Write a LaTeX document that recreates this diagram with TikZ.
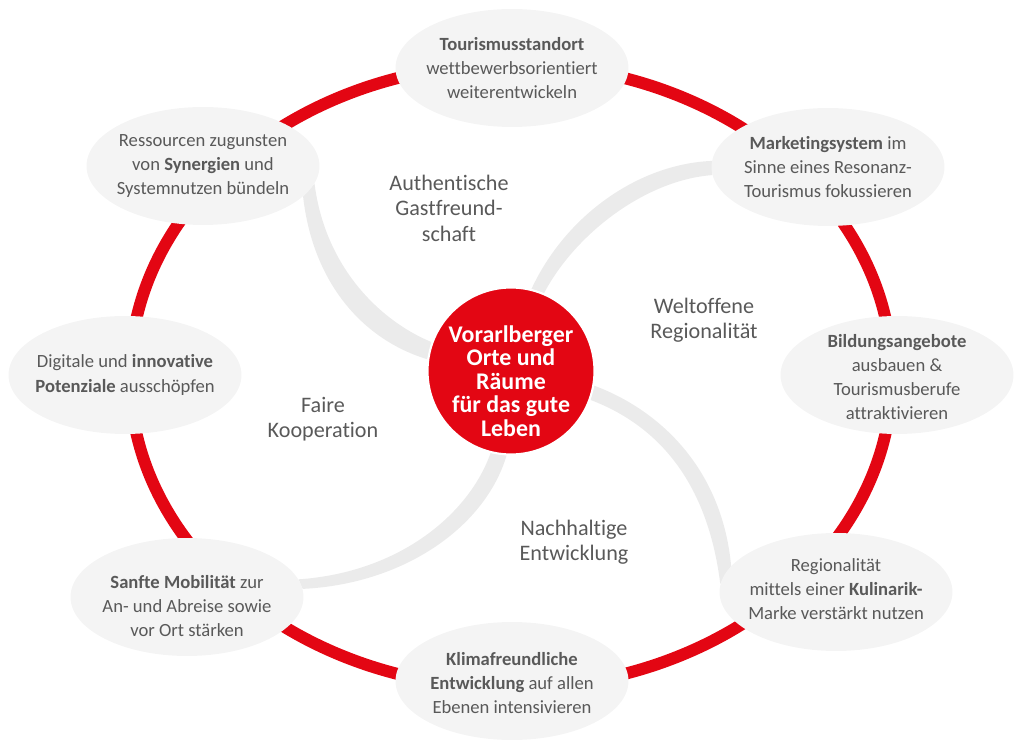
\documentclass[tikz,border=0pt]{standalone}
\usepackage{fontspec}
\setmainfont{Carlito}[Ligatures=CommonOff, Contextuals=AlternateOff]
\usetikzlibrary{shapes.geometric, backgrounds}
\definecolor{vred}{HTML}{E30613}
\definecolor{bubgray}{HTML}{F4F4F4}
\definecolor{swgray}{HTML}{EBEBEB}
\definecolor{txtgray}{HTML}{595959}

\newcommand{\satellite}[4]{%
  % bubble #1 at #2, its text at #3
  \node[bubble] (#1) at #2 {};
  \node[bubtext] (#1-t) at #3 {#4};
}

\begin{document}
\begin{tikzpicture}[
    x=0.02cm, y=-0.02cm,
    ring/.style={draw=vred, line width=0.24cm},
    swoosh/.style={fill=swgray, draw=none},
    bubble/.style={ellipse, fill=bubgray, minimum width=4.66cm, minimum height=2.36cm, inner sep=0pt},
    bubtext/.style={align=center, text=txtgray, inner sep=0pt, font=\fontsize{10.6}{13.7}\selectfont},
    theme/.style={align=center, text=txtgray, inner sep=0pt, font=\fontsize{12.6}{14.5}\selectfont},
    hubnode/.style={circle, fill=vred, draw=white, line width=1.2pt, minimum size=3.34cm, inner sep=0pt},
    hubtext/.style={align=center, text=white, inner sep=0pt, font=\bfseries\fontsize{13.6}{13.3}\selectfont}
  ]
  \useasboundingbox (0,0) rectangle (1024,749);

  \satellite{tour}{(512,68)}{(512,68)}{\textbf{Tourismusstandort}\\wettbewerbsorientiert\\weiterentwickeln}
  \satellite{res}{(203,166)}{(203,166)}{Ressourcen zugunsten\\von \textbf{Synergien} und\\Systemnutzen bündeln}
  \satellite{mkt}{(828,167)}{(828,167)}{\textbf{Marketingsystem} im\\Sinne eines Resonanz-\\Tourismus fokussieren}
  \satellite{dig}{(125,375)}{(125,375)}{Digitale und \textbf{innovative}\\\textbf{Potenziale} ausschöpfen}
  \satellite{bild}{(897,375)}{(897,377)}{\textbf{Bildungsangebote}\\ausbauen \&\\Tourismusberufe\\attraktivieren}
  \satellite{sanf}{(187,597)}{(187,606)}{\textbf{Sanfte Mobilität} zur\\An- und Abreise sowie\\vor Ort stärken}
  \satellite{reg}{(836,592)}{(836,589)}{Regionalität\\mittels einer \textbf{Kulinarik-}\\Marke verstärkt nutzen}
  \satellite{klima}{(512,681)}{(512,683)}{\textbf{Klimafreundliche}\\\textbf{Entwicklung} auf allen\\Ebenen intensivieren}

  \node[hubnode] (hub) at (511,371) {};
  \node[hubtext] (hub-t) at (511,381) {Vorarlberger\\Orte und\\Räume\\für das gute\\Leben};

  \node[theme] (auth) at (449,208) {Authentische\\Gastfreund-\\schaft};
  \node[theme] (welt) at (704,320) {Weltoffene\\Regionalität};
  \node[theme] (fair) at (323,419) {Faire\\Kooperation};
  \node[theme] (nach) at (574,542) {Nachhaltige\\Entwicklung};

  \begin{scope}[on background layer]
    % red ring behind the bubbles
    \coordinate (mid) at (511,376);
    \draw[ring] (mid) ellipse [x radius=381, y radius=312];

    % Ressourcen to hub
    \fill[swoosh] (res.-17) .. controls +(10,88) and +(-63,-19) .. (hub.172)
      -- (hub.160) .. controls +(-49,-20) and +(11,86) .. (res.-9) -- cycle;
    % Marketing to hub
    \fill[swoosh] (mkt.177) .. controls +(-72,3) and +(35,-75) .. (hub.76)
      -- (hub.67) .. controls +(31,-59) and +(-67,5) .. (mkt.184) -- cycle;
    % Sanfte Mobilitaet to hub
    \fill[swoosh] (sanf.9) .. controls +(102,-7) and +(-21,60) .. (hub.256)
      -- (hub.267) .. controls +(-21,71) and +(102,-5) .. (sanf.4) -- cycle;
    % hub to Regionalitaet
    \fill[swoosh] (hub.-10) .. controls +(67,25) and +(-9,-96) .. (reg.166)
      -- (reg.176) .. controls +(-13,-104) and +(66,25) .. (hub.-20) -- cycle;
  \end{scope}
\end{tikzpicture}
\end{document}
